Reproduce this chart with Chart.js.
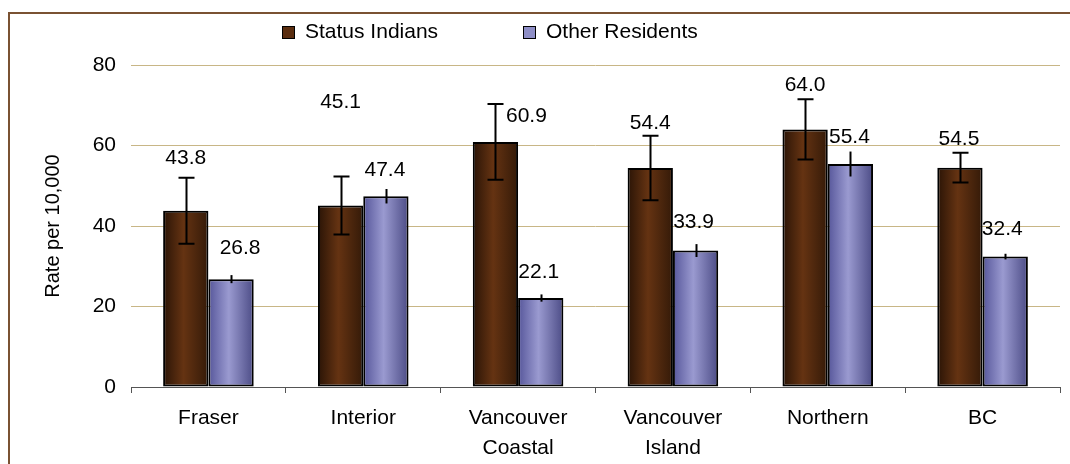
<!DOCTYPE html>
<html>
<head>
<meta charset="utf-8">
<script src="https://cdn.jsdelivr.net/npm/chart.js@4.4.0/dist/chart.umd.min.js"></script>
<style>
  html, body { margin: 0; padding: 0; background: #fff; }
  #wrap { width: 1070px; height: 464px; position: relative; }
</style>
</head>
<body>
<div id="wrap"><canvas id="rateChart"></canvas></div>
<script>
// Chart data
const regions = ["Fraser", "Interior", ["Vancouver", "Coastal"], ["Vancouver", "Island"], "Northern", "BC"];
const seriesNames = ["Status Indians", "Other Residents"];
const statusRates = [43.8, 45.1, 60.9, 54.4, 64.0, 54.5];
const otherRates = [26.8, 47.4, 22.1, 33.9, 55.4, 32.4];
// half-width of the error bars
const statusErr = [8.2, 7.2, 9.4, 8.0, 7.5, 3.7];
const otherErr = [1.0, 1.8, 0.9, 1.6, 3.1, 0.7];
const yTicks = [0, 20, 40, 60, 80];

// label nudges in px (label centre relative to bar top)
const statusLabelShift = [[0, -53], [0, -103], [31, -26], [0, -45], [0, -44], [-1, -28]];
const otherLabelShift = [[9, -31], [-1, -26], [-2, -26], [-2, -28], [-1, -27], [-3, -27]];

const FONT = "'Liberation Sans', Arial, sans-serif";
const CAT_PCT = 0.585;

// gradient stops for each series: edge, middle, edge
const shades = [
  ["#2a1406", "#653312", "#341a08"],
  ["#56569a", "#9a9ad0", "#4c4c86"]
];
const flatColors = ["#5a2d0f", "#8e8ec6"];

function barFill(context) {
  const chart = context.chart;
  const xs = chart.scales.x;
  const ds = context.datasetIndex;
  if (!xs || !chart.chartArea || context.dataIndex === undefined) return flatColors[ds];
  const catW = (xs.right - xs.left) / regions.length;
  const barW = catW * CAT_PCT / 2;
  const center = xs.getPixelForValue(context.dataIndex);
  const left = ds === 0 ? center - barW : center;
  const g = chart.ctx.createLinearGradient(left, 0, left + barW, 0);
  g.addColorStop(0, shades[ds][0]);
  g.addColorStop(0.45, shades[ds][1]);
  g.addColorStop(1, shades[ds][2]);
  return g;
}

// Frame round the chart
const framePlugin = {
  id: "frame",
  beforeDraw(chart) {
    const c = chart.ctx;
    c.save();
    c.strokeStyle = "#7a5232";
    c.lineWidth = 2;
    c.strokeRect(9, 13, chart.width + 20, chart.height + 20);
    c.restore();
  }
};

// Legend drawn by hand so it sits where the original one does
const legendPlugin = {
  id: "handLegend",
  afterDraw(chart) {
    const c = chart.ctx;
    const starts = [282, 523];
    c.save();
    c.font = "21px " + FONT;
    c.textBaseline = "middle";
    seriesNames.forEach((name, i) => {
      c.fillStyle = flatColors[i];
      c.fillRect(starts[i], 26, 13, 13);
      c.strokeStyle = "#000";
      c.lineWidth = 1;
      c.strokeRect(starts[i] + 0.5, 26.5, 12, 12);
      c.fillStyle = "#000";
      c.fillText(name, starts[i] + 23, 32);
    });
    c.restore();
  }
};

// Error bars and value labels
const errorPlugin = {
  id: "errorBars",
  afterDatasetsDraw(chart) {
    const c = chart.ctx;
    const ys = chart.scales.y;
    const errs = [statusErr, otherErr];
    const shifts = [statusLabelShift, otherLabelShift];
    c.save();
    chart.data.datasets.forEach((ds, di) => {
      const meta = chart.getDatasetMeta(di);
      meta.data.forEach((bar, i) => {
        const v = ds.data[i];
        const x = Math.round(bar.x) + 0.5;
        const top = ys.getPixelForValue(v + errs[di][i]);
        const bot = ys.getPixelForValue(v - errs[di][i]);
        c.strokeStyle = "#000";
        c.lineWidth = 2;
        c.beginPath();
        c.moveTo(x, top);
        c.lineTo(x, bot);
        if (di === 0) {
          c.moveTo(x - 8, top);
          c.lineTo(x + 8, top);
          c.moveTo(x - 8, bot);
          c.lineTo(x + 8, bot);
        }
        c.stroke();

        c.fillStyle = "#000";
        c.font = "21px " + FONT;
        c.textAlign = "center";
        c.textBaseline = "middle";
        const s = shifts[di][i];
        c.fillText(v.toFixed(1), bar.x + s[0], bar.y + s[1]);
      });
    });
    c.restore();
  }
};

const ctx = document.getElementById("rateChart").getContext("2d");
const rateChart = new Chart(ctx, {
  type: "bar",
  data: {
    labels: regions,
    datasets: [
      {
        label: seriesNames[0],
        data: statusRates,
        backgroundColor: barFill,
        borderColor: "#000",
        borderWidth: 2,
        borderSkipped: false
      },
      {
        label: seriesNames[1],
        data: otherRates,
        backgroundColor: barFill,
        borderColor: "#000",
        borderWidth: 2,
        borderSkipped: false
      }
    ]
  },
  options: {
    responsive: true,
    maintainAspectRatio: false,
    animation: false,
    devicePixelRatio: 1,
    datasets: {
      bar: { categoryPercentage: CAT_PCT, barPercentage: 1.0 }
    },
    layout: { padding: { top: 65, right: 10, left: 0, bottom: 0 } },
    plugins: {
      legend: { display: false },
      tooltip: { enabled: false }
    },
    scales: {
      x: {
        grid: {
          offset: true,
          drawOnChartArea: false,
          drawTicks: true,
          tickLength: 6,
          tickColor: "#555",
          tickWidth: 1
        },
        border: { display: true, color: "#555", width: 1 },
        ticks: {
          color: "#000",
          font: { family: FONT, size: 21, lineHeight: 1.45 },
          padding: 10,
          maxRotation: 0,
          autoSkip: false
        },
        afterFit(scale) { scale.height = 77; }
      },
      y: {
        min: 0,
        max: 80,
        afterBuildTicks(scale) { scale.ticks = yTicks.map(v => ({ value: v })); },
        grid: {
          color: "#c8b686",
          lineWidth: 1,
          drawTicks: false
        },
        border: { display: false },
        ticks: {
          color: "#000",
          font: { family: FONT, size: 21 },
          padding: 15
        },
        title: {
          display: true,
          text: "Rate per 10,000",
          color: "#000",
          font: { family: FONT, size: 20 },
          padding: { top: 41, bottom: 0 }
        },
        afterFit(scale) { scale.width = 131; }
      }
    }
  },
  plugins: [framePlugin, legendPlugin, errorPlugin]
});
</script>
</body>
</html>
